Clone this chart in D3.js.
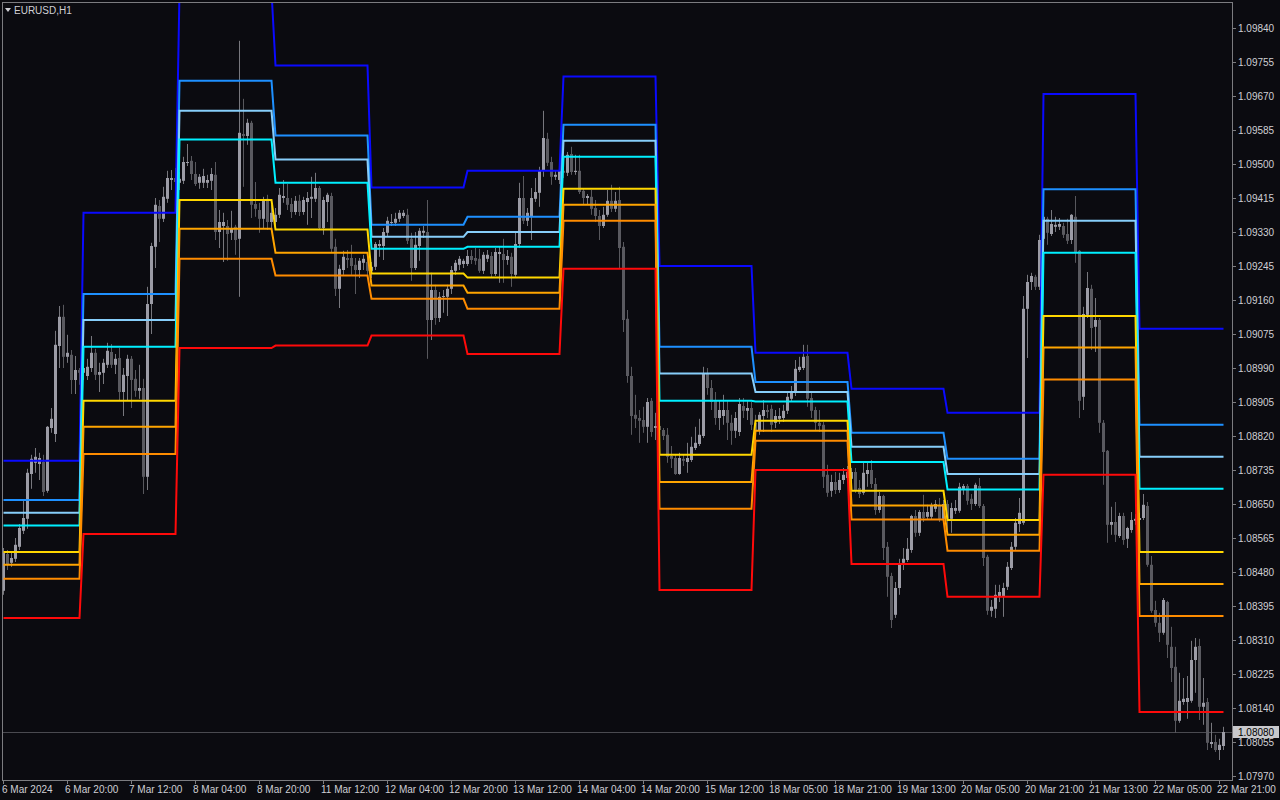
<!DOCTYPE html>
<html><head><meta charset="utf-8">
<script src="https://cdn.jsdelivr.net/npm/d3@7"></script>
<style>
html,body{margin:0;padding:0;background:#0b0b10;}
svg{display:block;}
text{font-family:"Liberation Sans",Arial,sans-serif;}
</style></head>
<body>
<svg id="chart" width="1280" height="800"></svg>
<script>
const symbolTitle = "EURUSD,H1";
const lastPrice = 1.08080;

const priceTicks = [1.09840,1.09755,1.09670,1.09585,1.09500,1.09415,1.09330,1.09245,1.09160,1.09075,1.08990,1.08905,1.08820,1.08735,1.08650,1.08565,1.08480,1.08395,1.08310,1.08225,1.08140,1.08055,1.07970];

const timeLabels = ["6 Mar 2024","6 Mar 20:00","7 Mar 12:00","8 Mar 04:00","8 Mar 20:00","11 Mar 12:00","12 Mar 04:00","12 Mar 20:00","13 Mar 12:00","14 Mar 04:00","14 Mar 20:00","15 Mar 12:00","18 Mar 05:00","18 Mar 21:00","19 Mar 13:00","20 Mar 05:00","20 Mar 21:00","21 Mar 13:00","22 Mar 05:00","22 Mar 21:00"];
const timeLabelBars = [0,16,32,48,64,80,96,112,128,144,160,176,192,208,224,240,256,272,288,304];

// first bar of each trading day
const dayStart = [0,20,44,68,92,116,140,164,188,212,236,260,284];

// daily levels, one value per day
const levDarkBlue  = [1.08758,1.09378,1.09932,1.09746,1.09441,1.09483,1.09719,1.09245,1.09028,1.08938,1.08878,1.09675,1.09088];
const levBlue      = [1.08660,1.09175,1.09708,1.09571,1.09348,1.09368,1.09598,1.09043,1.08955,1.08828,1.08763,1.09437,1.08848];
const levLightBlue = [1.08628,1.09110,1.09633,1.09511,1.09318,1.09330,1.09558,1.08976,1.08930,1.08793,1.08725,1.09358,1.08768];
const levCyan      = [1.08596,1.09043,1.09561,1.09453,1.09288,1.09293,1.09518,1.08908,1.08906,1.08755,1.08686,1.09278,1.08688];
const levYellow    = [1.08530,1.08908,1.09410,1.09336,1.09226,1.09216,1.09438,1.08773,1.08858,1.08683,1.08610,1.09120,1.08530];
const levGold      = [1.08498,1.08843,1.09338,1.09278,1.09196,1.09178,1.09398,1.08705,1.08833,1.08646,1.08573,1.09041,1.08450];
const levOrange    = [1.08463,1.08775,1.09263,1.09221,1.09163,1.09138,1.09358,1.08638,1.08808,1.08611,1.08533,1.08961,1.08370];
const levRed       = [1.08365,1.08575,1.09040,1.09046,1.09071,1.09025,1.09238,1.08435,1.08735,1.08500,1.08418,1.08723,1.08130];

// H1 candles
const open = [
1.08433,1.08525,1.08503,1.08513,1.08543,1.08583,1.08613,1.08725,1.08753,1.08750,
1.08755,1.08683,1.08840,1.08825,1.09045,1.09118,1.09018,1.09023,1.08960,1.08985,
1.08978,1.08970,1.08990,1.09028,1.08973,1.08978,1.08998,1.09030,1.08998,1.09015,
1.08930,1.08970,1.09013,1.08963,1.08933,1.08940,1.08718,1.09150,1.09293,1.09395,
1.09363,1.09413,1.09460,1.09465,1.09453,1.09458,1.09503,1.09508,1.09475,1.09453,
1.09453,1.09453,1.09458,1.09473,1.09330,1.09345,1.09345,1.09328,1.09343,1.09313,
1.09575,1.09570,1.09603,1.09400,1.09385,1.09363,1.09413,1.09355,1.09355,1.09373,
1.09415,1.09415,1.09400,1.09380,1.09408,1.09380,1.09405,1.09413,1.09413,1.09440,
1.09340,1.09405,1.09420,1.09293,1.09188,1.09235,1.09265,1.09265,1.09248,1.09235,
1.09253,1.09255,1.09233,1.09243,1.09295,1.09295,1.09328,1.09353,1.09353,1.09363,
1.09370,1.09373,1.09313,1.09240,1.09295,1.09328,1.09330,1.09110,1.09185,1.09115,
1.09168,1.09168,1.09188,1.09233,1.09248,1.09250,1.09250,1.09270,1.09265,1.09263,
1.09233,1.09263,1.09270,1.09225,1.09275,1.09275,1.09260,1.09268,1.09223,1.09300,
1.09415,1.09358,1.09368,1.09413,1.09428,1.09483,1.09563,1.09505,1.09468,1.09460,
1.09483,1.09478,1.09525,1.09480,1.09483,1.09433,1.09415,1.09418,1.09390,1.09370,
1.09345,1.09373,1.09408,1.09388,1.09410,1.09293,1.09113,1.08970,1.08873,1.08865,
1.08860,1.08843,1.08908,1.08840,1.08845,1.08835,1.08823,1.08770,1.08765,1.08725,
1.08763,1.08755,1.08760,1.08790,1.08800,1.08820,1.08975,1.08940,1.08908,1.08865,
1.08870,1.08885,1.08853,1.08833,1.08830,1.08895,1.08883,1.08890,1.08853,1.08833,
1.08870,1.08885,1.08888,1.08853,1.08863,1.08865,1.08883,1.08913,1.08928,1.08985,
1.08990,1.09020,1.08915,1.08885,1.08853,1.08848,1.08723,1.08683,1.08705,1.08685,
1.08710,1.08715,1.08713,1.08730,1.08690,1.08678,1.08725,1.08735,1.08700,1.08635,
1.08670,1.08543,1.08470,1.08373,1.08440,1.08503,1.08510,1.08535,1.08620,1.08578,
1.08630,1.08618,1.08618,1.08638,1.08645,1.08613,1.08650,1.08613,1.08633,1.08633,
1.08688,1.08695,1.08663,1.08650,1.08695,1.08645,1.08518,1.08383,1.08388,1.08418,
1.08418,1.08443,1.08490,1.08543,1.08600,1.08603,1.09138,1.09205,1.09218,1.09193,
1.09313,1.09363,1.09325,1.09343,1.09343,1.09345,1.09325,1.09310,1.09368,1.09283,
1.08918,1.09123,1.09188,1.09093,1.09110,1.08853,1.08783,1.08598,1.08605,1.08570,
1.08620,1.08563,1.08585,1.08608,1.08610,1.08615,1.08645,1.08498,1.08385,1.08353,
1.08328,1.08405,1.08293,1.08243,1.08108,1.08155,1.08155,1.08158,1.08260,1.08295,
1.08143,1.08155,1.08050,1.08055,1.08035,1.08045];
const high = [
1.08540,1.08535,1.08528,1.08565,1.08600,1.08660,1.08738,1.08773,1.08790,1.08778,
1.08773,1.08845,1.08890,1.09083,1.09145,1.09148,1.09073,1.09035,1.09020,1.08990,
1.09005,1.09013,1.09070,1.09038,1.09003,1.09013,1.09053,1.09050,1.09025,1.09040,
1.08990,1.09023,1.09020,1.08985,1.08998,1.08963,1.09193,1.09303,1.09415,1.09410,
1.09443,1.09483,1.09485,1.09490,1.09480,1.09518,1.09550,1.09520,1.09505,1.09475,
1.09488,1.09473,1.09490,1.09505,1.09385,1.09378,1.09360,1.09383,1.09348,1.09808,
1.09663,1.09613,1.09608,1.09455,1.09403,1.09418,1.09423,1.09398,1.09390,1.09440,
1.09460,1.09450,1.09415,1.09420,1.09423,1.09418,1.09430,1.09468,1.09478,1.09445,
1.09418,1.09428,1.09428,1.09313,1.09248,1.09283,1.09285,1.09298,1.09265,1.09265,
1.09273,1.09270,1.09255,1.09305,1.09310,1.09340,1.09368,1.09375,1.09378,1.09385,
1.09385,1.09388,1.09328,1.09330,1.09340,1.09345,1.09410,1.09228,1.09198,1.09180,
1.09185,1.09198,1.09245,1.09260,1.09270,1.09263,1.09285,1.09285,1.09290,1.09288,
1.09280,1.09285,1.09280,1.09290,1.09295,1.09313,1.09285,1.09278,1.09328,1.09453,
1.09470,1.09390,1.09440,1.09465,1.09493,1.09633,1.09578,1.09518,1.09485,1.09498,
1.09515,1.09530,1.09543,1.09523,1.09523,1.09438,1.09425,1.09435,1.09410,1.09385,
1.09393,1.09435,1.09448,1.09430,1.09443,1.09305,1.09135,1.08993,1.08923,1.08885,
1.08893,1.08915,1.08915,1.08878,1.08860,1.08840,1.08840,1.08795,1.08773,1.08778,
1.08773,1.08803,1.08818,1.08843,1.08863,1.08993,1.08990,1.08960,1.08930,1.08910,
1.08923,1.08910,1.08873,1.08880,1.08915,1.08915,1.08910,1.08905,1.08873,1.08880,
1.08910,1.08898,1.08898,1.08885,1.08890,1.08898,1.08930,1.08945,1.09010,1.09018,
1.09048,1.09048,1.08930,1.08893,1.08885,1.08855,1.08748,1.08723,1.08730,1.08728,
1.08740,1.08745,1.08740,1.08740,1.08710,1.08753,1.08755,1.08760,1.08715,1.08680,
1.08673,1.08555,1.08478,1.08455,1.08513,1.08540,1.08565,1.08623,1.08635,1.08635,
1.08673,1.08648,1.08653,1.08660,1.08665,1.08660,1.08660,1.08653,1.08660,1.08703,
1.08700,1.08700,1.08675,1.08703,1.08715,1.08650,1.08523,1.08410,1.08448,1.08448,
1.08453,1.08505,1.08555,1.08615,1.08665,1.09170,1.09223,1.09228,1.09223,1.09323,
1.09373,1.09368,1.09385,1.09368,1.09365,1.09353,1.09363,1.09375,1.09420,1.09285,
1.09143,1.09230,1.09198,1.09165,1.09115,1.08860,1.08785,1.08643,1.08655,1.08628,
1.08628,1.08593,1.08630,1.08625,1.08628,1.08675,1.08655,1.08520,1.08408,1.08378,
1.08415,1.08408,1.08343,1.08293,1.08228,1.08215,1.08220,1.08308,1.08315,1.08313,
1.08215,1.08165,1.08103,1.08073,1.08063,1.08093];
const low = [
1.08423,1.08485,1.08493,1.08505,1.08535,1.08575,1.08588,1.08688,1.08728,1.08710,
1.08670,1.08678,1.08828,1.08805,1.08990,1.08990,1.09003,1.08925,1.08925,1.08948,
1.08960,1.08960,1.08980,1.08960,1.08930,1.08950,1.08990,1.08990,1.08975,1.08910,
1.08870,1.08910,1.08890,1.08918,1.08913,1.08675,1.08685,1.09075,1.09240,1.09305,
1.09355,1.09403,1.09435,1.09435,1.09435,1.09450,1.09495,1.09460,1.09445,1.09438,
1.09440,1.09440,1.09435,1.09310,1.09290,1.09255,1.09258,1.09310,1.09273,1.09168,
1.09443,1.09548,1.09365,1.09368,1.09328,1.09340,1.09335,1.09340,1.09345,1.09365,
1.09403,1.09385,1.09365,1.09373,1.09370,1.09373,1.09348,1.09365,1.09405,1.09335,
1.09323,1.09355,1.09280,1.09170,1.09140,1.09223,1.09240,1.09223,1.09175,1.09215,
1.09235,1.09223,1.09215,1.09235,1.09268,1.09260,1.09320,1.09345,1.09345,1.09355,
1.09365,1.09300,1.09208,1.09235,1.09258,1.09315,1.09013,1.09060,1.09098,1.09105,
1.09128,1.09120,1.09175,1.09223,1.09235,1.09240,1.09245,1.09250,1.09248,1.09228,
1.09225,1.09255,1.09215,1.09220,1.09203,1.09203,1.09248,1.09193,1.09215,1.09290,
1.09350,1.09345,1.09310,1.09405,1.09393,1.09468,1.09495,1.09448,1.09460,1.09450,
1.09465,1.09470,1.09473,1.09473,1.09425,1.09398,1.09398,1.09373,1.09355,1.09310,
1.09340,1.09368,1.09380,1.09380,1.09240,1.09080,1.08953,1.08823,1.08840,1.08803,
1.08828,1.08803,1.08818,1.08810,1.08820,1.08810,1.08753,1.08740,1.08723,1.08723,
1.08745,1.08728,1.08755,1.08785,1.08795,1.08815,1.08923,1.08885,1.08848,1.08835,
1.08848,1.08810,1.08798,1.08815,1.08820,1.08865,1.08860,1.08835,1.08810,1.08823,
1.08830,1.08865,1.08830,1.08840,1.08850,1.08855,1.08875,1.08905,1.08920,1.08980,
1.08985,1.08893,1.08865,1.08835,1.08830,1.08690,1.08668,1.08668,1.08675,1.08678,
1.08700,1.08705,1.08700,1.08678,1.08665,1.08673,1.08693,1.08690,1.08623,1.08628,
1.08510,1.08418,1.08340,1.08365,1.08423,1.08485,1.08505,1.08528,1.08568,1.08570,
1.08605,1.08610,1.08610,1.08630,1.08605,1.08605,1.08585,1.08578,1.08625,1.08628,
1.08673,1.08648,1.08635,1.08645,1.08640,1.08495,1.08373,1.08368,1.08365,1.08405,
1.08368,1.08435,1.08485,1.08535,1.08580,1.08598,1.09015,1.09185,1.09185,1.09185,
1.09303,1.09298,1.09320,1.09330,1.09335,1.09315,1.09300,1.09300,1.09253,1.08865,
1.08885,1.09115,1.09035,1.09030,1.08828,1.08698,1.08553,1.08573,1.08555,1.08565,
1.08548,1.08540,1.08578,1.08598,1.08603,1.08610,1.08493,1.08378,1.08343,1.08305,
1.08323,1.08265,1.08205,1.08078,1.08103,1.08148,1.08113,1.08153,1.08178,1.08110,
1.08098,1.08035,1.08040,1.08030,1.08010,1.08035];
const close = [
1.08528,1.08500,1.08515,1.08548,1.08590,1.08615,1.08728,1.08763,1.08768,1.08765,
1.08680,1.08843,1.08863,1.09048,1.09118,1.09018,1.09028,1.08960,1.08985,1.08978,
1.08990,1.08993,1.09028,1.08973,1.08980,1.09003,1.09033,1.08998,1.09013,1.08930,
1.08973,1.09013,1.08960,1.08933,1.08940,1.08718,1.09150,1.09295,1.09398,1.09363,
1.09418,1.09465,1.09465,1.09455,1.09463,1.09505,1.09505,1.09475,1.09450,1.09468,
1.09470,1.09460,1.09475,1.09330,1.09355,1.09355,1.09325,1.09340,1.09310,1.09578,
1.09570,1.09603,1.09398,1.09388,1.09363,1.09408,1.09355,1.09378,1.09373,1.09423,
1.09420,1.09398,1.09380,1.09408,1.09380,1.09410,1.09415,1.09418,1.09440,1.09340,
1.09410,1.09423,1.09288,1.09188,1.09238,1.09268,1.09260,1.09245,1.09235,1.09258,
1.09263,1.09233,1.09243,1.09300,1.09300,1.09330,1.09358,1.09355,1.09363,1.09378,
1.09378,1.09308,1.09240,1.09298,1.09333,1.09333,1.09110,1.09185,1.09115,1.09168,
1.09170,1.09188,1.09235,1.09253,1.09263,1.09258,1.09270,1.09260,1.09258,1.09233,
1.09273,1.09273,1.09225,1.09280,1.09280,1.09260,1.09270,1.09225,1.09300,1.09415,
1.09358,1.09378,1.09415,1.09430,1.09483,1.09565,1.09503,1.09468,1.09473,1.09483,
1.09478,1.09523,1.09480,1.09483,1.09430,1.09415,1.09420,1.09388,1.09370,1.09345,
1.09373,1.09408,1.09388,1.09408,1.09290,1.09110,1.08970,1.08870,1.08863,1.08858,
1.08843,1.08905,1.08830,1.08845,1.08835,1.08820,1.08768,1.08763,1.08725,1.08765,
1.08758,1.08765,1.08793,1.08803,1.08823,1.08975,1.08940,1.08905,1.08865,1.08885,
1.08885,1.08853,1.08833,1.08865,1.08900,1.08883,1.08890,1.08848,1.08833,1.08873,
1.08885,1.08880,1.08848,1.08870,1.08870,1.08883,1.08918,1.08928,1.08988,1.08993,
1.09018,1.08913,1.08883,1.08853,1.08845,1.08718,1.08678,1.08705,1.08685,1.08710,
1.08723,1.08730,1.08730,1.08685,1.08675,1.08728,1.08735,1.08700,1.08635,1.08670,
1.08540,1.08468,1.08360,1.08440,1.08498,1.08513,1.08538,1.08620,1.08578,1.08630,
1.08615,1.08630,1.08645,1.08650,1.08613,1.08650,1.08613,1.08640,1.08640,1.08693,
1.08695,1.08658,1.08650,1.08698,1.08645,1.08515,1.08383,1.08393,1.08423,1.08430,
1.08440,1.08493,1.08543,1.08603,1.08628,1.09138,1.09205,1.09220,1.09193,1.09310,
1.09368,1.09328,1.09350,1.09348,1.09350,1.09323,1.09308,1.09373,1.09280,1.08908,
1.09125,1.09190,1.09090,1.09110,1.08853,1.08780,1.08598,1.08605,1.08573,1.08620,
1.08560,1.08590,1.08610,1.08613,1.08615,1.08648,1.08498,1.08383,1.08353,1.08328,
1.08410,1.08298,1.08240,1.08108,1.08158,1.08163,1.08165,1.08260,1.08293,1.08143,
1.08153,1.08053,1.08055,1.08035,1.08048,1.08080];

const levels = [
  {vals: levDarkBlue,  color: "#0a0aff"},
  {vals: levBlue,      color: "#1e90ff"},
  {vals: levLightBlue, color: "#87cefa"},
  {vals: levCyan,      color: "#00f0ff"},
  {vals: levYellow,    color: "#ffd700"},
  {vals: levGold,      color: "#ffa500"},
  {vals: levOrange,    color: "#ff8c00"},
  {vals: levRed,       color: "#ff0a0a"}
];

const W = 1280, H = 800;
const plotL = 2, plotR = 1232, plotT = 2, plotB = 780;
const nBars = close.length;

const svg = d3.select("#chart");
svg.append("rect").attr("width", W).attr("height", H).attr("fill", "#0b0b10");

const x = d3.scaleLinear().domain([0, 305]).range([3.5, 1223.5]);
const y = d3.scaleLinear().domain([1.09840, 1.07970]).range([28, 776]);

const defs = svg.append("defs");
defs.append("clipPath").attr("id", "plotClip").append("rect")
  .attr("x", plotL).attr("y", plotT).attr("width", plotR - plotL).attr("height", plotB - plotT);

const plot = svg.append("g").attr("clip-path", "url(#plotClip)");

// current price line
plot.append("line")
  .attr("x1", plotL).attr("x2", plotR)
  .attr("y1", Math.round(y(lastPrice)) + 0.5).attr("y2", Math.round(y(lastPrice)) + 0.5)
  .attr("stroke", "#4a4a50").attr("stroke-width", 1);

// candles
const idx = d3.range(nBars);
const cg = plot.append("g");
cg.selectAll("line.wick").data(idx).join("line")
  .attr("class", "wick")
  .attr("x1", i => Math.floor(x(i)) + 0.5).attr("x2", i => Math.floor(x(i)) + 0.5)
  .attr("y1", i => y(high[i])).attr("y2", i => y(low[i]))
  .attr("stroke", i => close[i] >= open[i] ? "#77777d" : "#58585d")
  .attr("stroke-width", 1);
cg.selectAll("rect.body").data(idx).join("rect")
  .attr("class", "body")
  .attr("x", i => Math.floor(x(i)) - 1)
  .attr("width", 3)
  .attr("y", i => Math.min(y(open[i]), y(close[i])))
  .attr("height", i => Math.max(1, Math.abs(y(open[i]) - y(close[i]))))
  .attr("fill", i => close[i] >= open[i] ? "#9c9ca6" : "#5a5a60");

// level lines
function dayOf(i) {
  let d = 0;
  for (let k = 0; k < dayStart.length; k++) if (i >= dayStart[k]) d = k;
  return d;
}
levels.forEach(lv => {
  const pts = idx.map(i => [x(i), y(lv.vals[dayOf(i)])]);
  plot.append("path")
    .attr("d", d3.line()(pts))
    .attr("fill", "none")
    .attr("stroke", lv.color)
    .attr("stroke-width", 2);
});

// frame
svg.append("rect")
  .attr("x", plotL + 0.5).attr("y", plotT + 0.5)
  .attr("width", plotR - plotL).attr("height", plotB - plotT)
  .attr("fill", "none").attr("stroke", "#7c7c80").attr("stroke-width", 1);

// right price axis
const ax = svg.append("g").attr("fill", "#cfcfd4").attr("font-size", "10px");
priceTicks.forEach(p => {
  const yy = Math.round(y(p));
  svg.append("line").attr("x1", plotR).attr("x2", plotR + 4)
    .attr("y1", yy + 0.5).attr("y2", yy + 0.5).attr("stroke", "#7c7c80");
  ax.append("text").attr("x", plotR + 6).attr("y", yy).attr("dy", "0.35em").text(p.toFixed(5));
});
// last price box
const ly = Math.round(y(lastPrice));
svg.append("rect").attr("x", plotR + 1).attr("y", ly - 6).attr("width", 46).attr("height", 12)
  .attr("fill", "#c8c8cc");
svg.append("text").attr("x", plotR + 6).attr("y", ly).attr("dy", "0.35em")
  .attr("font-size", "10px").attr("fill", "#000").text(lastPrice.toFixed(5));

// bottom time axis
const tx = svg.append("g").attr("fill", "#cfcfd4").attr("font-size", "10px");
timeLabels.forEach((t, k) => {
  const xx = Math.floor(x(timeLabelBars[k]));
  svg.append("line").attr("x1", xx + 0.5).attr("x2", xx + 0.5)
    .attr("y1", plotB).attr("y2", plotB + 4).attr("stroke", "#7c7c80");
  tx.append("text").attr("x", k === 0 ? 2 : xx - 2).attr("y", 793).text(t);
});

// title
svg.append("path").attr("d", "M5,8 L11,8 L8,12 Z").attr("fill", "#cfcfd4");
svg.append("text").attr("x", 14).attr("y", 14).attr("font-size", "10px")
  .attr("fill", "#cfcfd4").text(symbolTitle);
</script>
</body></html>
